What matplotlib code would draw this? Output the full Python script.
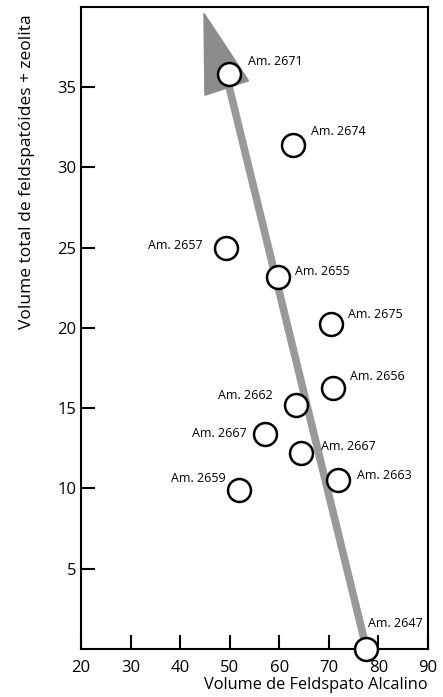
import numpy as np
import matplotlib
matplotlib.use('Agg')
import matplotlib.pyplot as plt
from matplotlib.patches import Polygon

plt.rcParams['font.family'] = ['Open Sans', 'DejaVu Sans']

# sample data (alkali feldspar vs feldspathoids + zeolite)
labels = ['Am. 2671', 'Am. 2674', 'Am. 2657', 'Am. 2655', 'Am. 2675', 'Am. 2656',
          'Am. 2662', 'Am. 2667', 'Am. 2667', 'Am. 2659', 'Am. 2663', 'Am. 2647']
feld = [49.8, 62.7, 49.2, 59.8, 70.4, 70.8, 63.4, 57.1, 64.4, 51.9, 71.8, 77.6]
foid = [35.8, 31.4, 25.0, 23.2, 20.25, 16.25, 15.2, 13.4, 12.2, 9.9, 10.5, 0.0]
# label offsets in points (dx, dy) and alignment
offs = [(14, 9.5), (13, 10), (-16.5, 1.5), (12, 4), (12.5, 7), (12.5, 8.5),
        (-16.5, 6.5), (-13, 0), (14, 5), (-9.5, 8.5), (13.5, 3.5), (1, 18)]
align = ['left', 'left', 'right', 'left', 'left', 'left',
         'right', 'right', 'left', 'right', 'left', 'left']

# trend arrow
shaft_x = [77.2, 49.9]
shaft_y = [0.5, 35.0]
head_x = [44.8, 45.0, 53.8]
head_y = [39.6, 34.5, 35.4]

fig = plt.figure(figsize=(4.43, 6.97), dpi=100)
ax = fig.add_axes([0.183, 0.069, 0.783, 0.921])

ax.plot(shaft_x, shaft_y, color='#999999', lw=5.5, solid_capstyle='butt', zorder=1)
ax.add_patch(Polygon(np.column_stack([head_x, head_y]), closed=True,
                     facecolor='#8c8c8c', edgecolor='#8c8c8c', lw=1, zorder=1))

ax.plot(feld, foid, 'o', ms=16.5, mfc='white', mec='black', mew=1.8, zorder=3,
        clip_on=False)
for x, y, t, (dx, dy), ha in zip(feld, foid, labels, offs, align):
    ax.annotate(t, (x, y), xytext=(dx, dy), textcoords='offset points',
                ha=ha, va='center', fontsize=9)

ax.set_xlim(20, 90)
ax.set_ylim(0, 40)
ax.set_xticks([20, 30, 40, 50, 60, 70, 80, 90])
ax.set_yticks([5, 10, 15, 20, 25, 30, 35])
ax.tick_params(direction='in', length=10, width=1.5, labelsize=12)
ax.tick_params(axis='x', pad=8)
for s in ax.spines.values():
    s.set_linewidth(1.5)

ax.set_xlabel('Volume de Feldspato Alcalino', loc='right', fontsize=11.8, labelpad=1)
ax.set_ylabel('Volume total de feldspatóides + zeolita', fontsize=12.5, ha='right')
ax.yaxis.set_label_coords(-0.133, 0.988)

fig.savefig('out.png', dpi=100)
